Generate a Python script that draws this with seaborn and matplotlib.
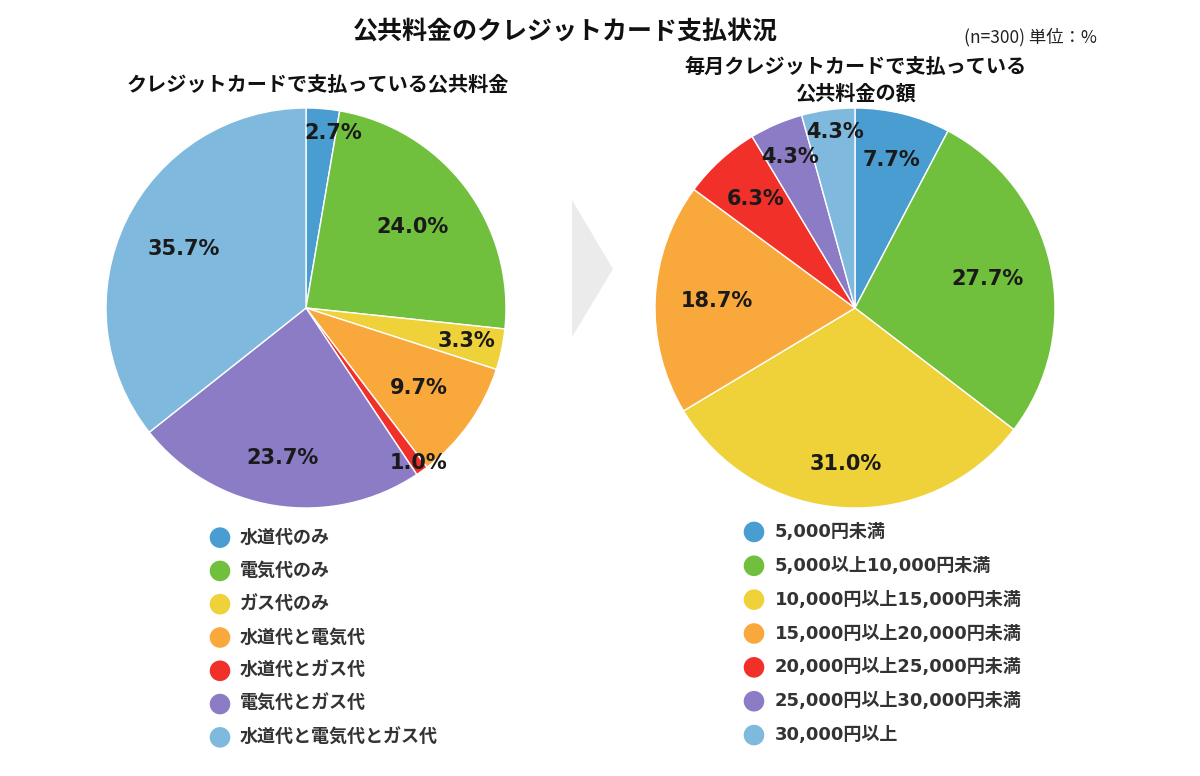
import numpy as np
import pandas as pd
import matplotlib
matplotlib.use("Agg")
import matplotlib.pyplot as plt
from matplotlib.patches import Polygon
import seaborn as sns

# ---------------- data ----------------
title = "公共料金のクレジットカード支払状況"
note = "(n=300) 単位：%"
left_title = "クレジットカードで支払っている公共料金"
right_title = "毎月クレジットカードで支払っている\n公共料金の額"

left_labels = ["水道代のみ", "電気代のみ", "ガス代のみ", "水道代と電気代",
               "水道代とガス代", "電気代とガス代", "水道代と電気代とガス代"]
left_values = [2.7, 24.0, 3.3, 9.7, 1.0, 23.7, 35.7]

right_labels = ["5,000円未満", "5,000以上10,000円未満", "10,000円以上15,000円未満",
                "15,000円以上20,000円未満", "20,000円以上25,000円未満",
                "25,000円以上30,000円未満", "30,000円以上"]
right_values = [7.7, 27.7, 31.0, 18.7, 6.3, 4.3, 4.3]

colors = ["#4a9dd0", "#70c03e", "#efd13a", "#f9a83c", "#f2302a", "#8c7cc6", "#7fb9dd"]

# label radial distances (style)
left_label_r = [0.88, 0.67, 0.80, 0.69, 0.95, 0.76, 0.68]
right_label_r = [0.76, 0.68, 0.78, 0.69, 0.74, 0.82, 0.89]
# small horizontal nudges of label anchors, in radius units (style)
left_label_dx = [0.06, 0, 0.02, 0, 0.01, 0, 0]
right_label_dx = [0, 0, 0, 0, 0, 0, 0.02]

# ---------------- style ----------------
sns.set_theme(style="white")
plt.rcParams["font.family"] = ["Noto Sans CJK JP", "DejaVu Sans"]

W, H = 1200, 776
fig = plt.figure(figsize=(W / 100, H / 100), dpi=100)
fig.patch.set_facecolor("white")


def px_axes(x0, y0, w, h):
    """Create axes from pixel box (top-left origin)."""
    return fig.add_axes([x0 / W, 1 - (y0 + h) / H, w / W, h / H])


def draw_pie(ax, values, label_r, label_dx):
    wedges, _ = ax.pie(values, colors=colors, startangle=90, counterclock=False,
                       radius=1.0, wedgeprops=dict(edgecolor="white", linewidth=1))
    ax.set_xlim(-1, 1)
    ax.set_ylim(-1, 1)
    ax.set_aspect("equal")
    ax.axis("off")
    for w, v, r, dx in zip(wedges, values, label_r, label_dx):
        ang = np.deg2rad((w.theta1 + w.theta2) / 2)
        ax.text(r * np.cos(ang) + dx, r * np.sin(ang), f"{v:.1f}%",
                ha="center", va="center", fontsize=15, fontweight="bold",
                color="#1a1a1a", family="DejaVu Sans")


def draw_legend(ax, labels, text_x):
    df = pd.DataFrame({"x": [20] * len(labels), "y": list(range(len(labels))),
                       "cat": labels})
    sns.scatterplot(data=df, x="x", y="y", hue="cat", palette=colors,
                    s=220, edgecolor="none", legend=False, ax=ax)
    for i, lab in enumerate(labels):
        ax.text(text_x, i, lab, ha="left", va="center", fontsize=13,
                fontweight="bold", color="#333333",
                family=["DejaVu Sans", "Noto Sans CJK JP"])
    ax.set_xlim(0, ax.get_position().width * W)
    ax.set_ylim(len(labels) - 0.5, -0.5)
    ax.axis("off")


# pies
ax_l = px_axes(106, 108, 400, 400)
draw_pie(ax_l, left_values, left_label_r, left_label_dx)
ax_r = px_axes(655, 108, 400, 400)
draw_pie(ax_r, right_values, right_label_r, right_label_dx)

# legends
leg_l = px_axes(200, 521, 320, 233)
draw_legend(leg_l, left_labels, 40)
leg_r = px_axes(734, 515, 400, 237)
draw_legend(leg_r, right_labels, 41)

# arrow
tri = np.array([[572, 200], [613, 269], [572, 337]], dtype=float)
tri[:, 0] /= W
tri[:, 1] = 1 - tri[:, 1] / H
fig.patches.append(Polygon(tri, closed=True, transform=fig.transFigure,
                           facecolor="#ebebeb", edgecolor="none"))

# titles
fig.text(565 / W, 1 - 32 / H, title, ha="center", va="center",
         fontsize=18, fontweight="bold", color="#111111")
fig.text(1097 / W, 1 - 37 / H, note, ha="right", va="center",
         fontsize=12.5, color="#222222")
fig.text(318 / W, 1 - 84 / H, left_title, ha="center", va="center",
         fontsize=14.5, fontweight="bold", color="#111111")
fig.text(855 / W, 1 - 80 / H, right_title, ha="center", va="center",
         fontsize=14.5, fontweight="bold", color="#111111", linespacing=1.35)

fig.savefig("out.png", dpi=100, facecolor="white")
